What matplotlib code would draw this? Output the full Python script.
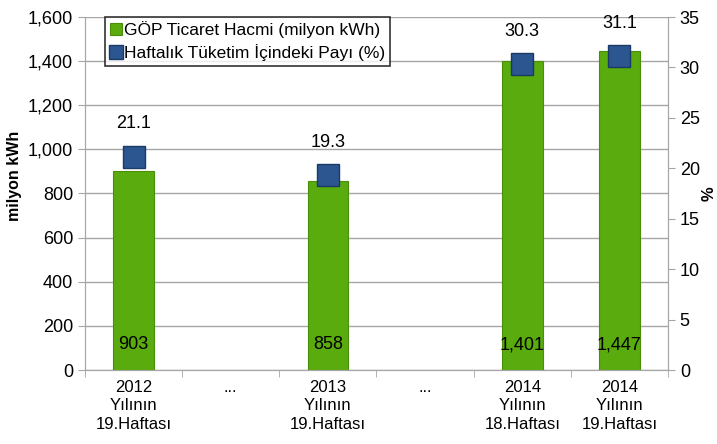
import numpy as np
import matplotlib.pyplot as plt

plt.rcParams['font.family'] = ['Liberation Sans', 'DejaVu Sans']

# data
labels = ['2012\nYılının\n19.Haftası', '...', '2013\nYılının\n19.Haftası', '...',
          '2014\nYılının\n18.Haftası', '2014\nYılının\n19.Haftası']
volume = [903, np.nan, 858, np.nan, 1401, 1447]
share = [21.1, np.nan, 19.3, np.nan, 30.3, 31.1]

x = np.arange(len(labels))

fig = plt.figure(figsize=(7.17, 4.44), dpi=100)
ax = fig.add_axes([85/717, 74/444, 583/717, 353/444])
ax2 = ax.twinx()

ax.bar(x, volume, width=0.42, color='#5aab0e', edgecolor='#4a8f0a', linewidth=0.8,
       label='GÖP Ticaret Hacmi (milyon kWh)', zorder=3)
ax2.plot(x, share, linestyle='none', marker='s', markersize=16, color='#2b5690',
         markeredgecolor='#1c3a66', label='Haftalık Tüketim İçindeki Payı (%)', zorder=4)

for xi, v in zip(x, volume):
    if not np.isnan(v):
        ax.text(xi, 115, f'{v:,.0f}', ha='center', va='center', fontsize=13, zorder=5)
for xi, s in zip(x, share):
    if not np.isnan(s):
        ax2.text(xi, s + 3.3, f'{s:.1f}', ha='center', va='center', fontsize=13)

ax.set_xlim(-0.5, len(labels) - 0.5)
ax.set_ylim(0, 1600)
ax.set_yticks(np.arange(0, 1601, 200))
ax.yaxis.set_major_formatter(plt.FuncFormatter(lambda v, p: f'{v:,.0f}'))
ax2.set_ylim(0, 35)
ax2.set_yticks(np.arange(0, 36, 5))

ax.grid(axis='y', color='#a6a6a6', linewidth=1, zorder=0)
ax.set_axisbelow(True)

ax.set_xticks(x)
ax.set_xticklabels(labels, fontsize=12, linespacing=1.3)
ax.set_xticks(np.arange(-0.5, len(labels), 1), minor=True)
ax.tick_params(axis='x', which='major', length=0, pad=7)
ax.tick_params(axis='x', which='minor', length=5, color='#a6a6a6')
ax.tick_params(axis='y', labelsize=13, length=5, color='#a6a6a6')
ax2.tick_params(axis='y', labelsize=13, length=5, color='#a6a6a6')

for a in (ax, ax2):
    a.spines['top'].set_visible(False)
    for s in ('left', 'right', 'bottom'):
        a.spines[s].set_color('#a6a6a6')

ax.set_ylabel('milyon kWh', fontsize=11.5, fontweight='bold')
ax.yaxis.set_label_coords(-0.108, 0.55)
ax2.set_ylabel('%', fontsize=12, fontweight='bold')
ax2.yaxis.set_label_coords(1.058, 0.5)

h1, l1 = ax.get_legend_handles_labels()
h2, l2 = ax2.get_legend_handles_labels()
leg = ax.legend(h1 + h2, l1 + l2, loc='upper left', bbox_to_anchor=(0.02, 1.025),
                fontsize=12.5, frameon=True, fancybox=False, edgecolor='black',
                handlelength=0.7, handletextpad=0.15, borderpad=0.25, labelspacing=0.35,
                markerscale=0.6)
leg.get_frame().set_linewidth(1.2)
leg.set_zorder(10)

fig.savefig('out.png', dpi=100)
